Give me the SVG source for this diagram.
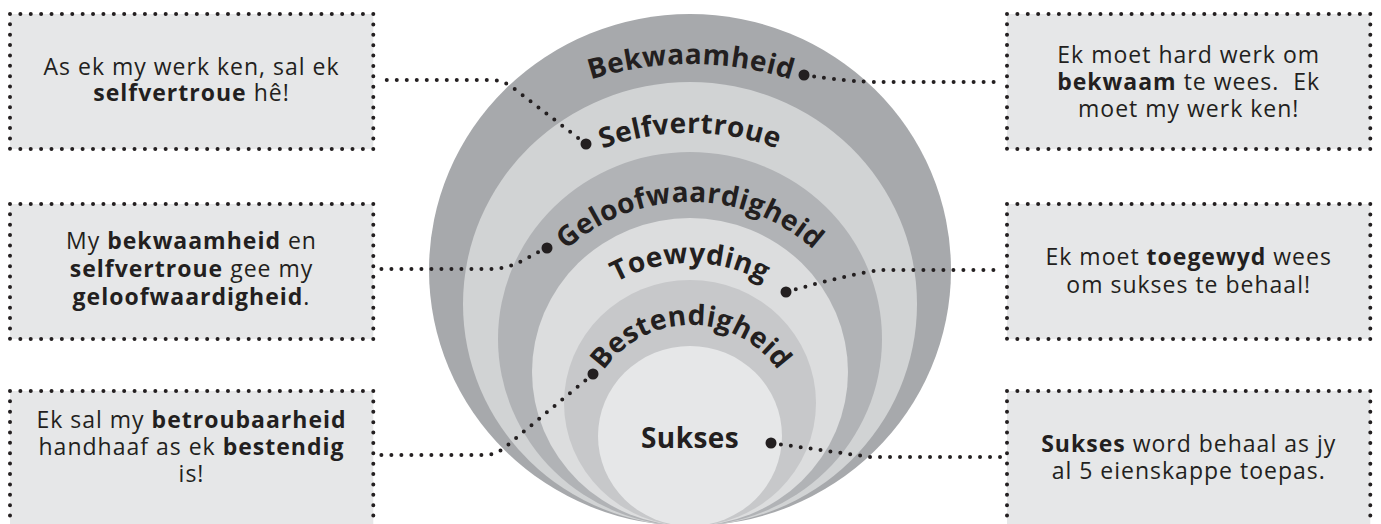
<svg xmlns="http://www.w3.org/2000/svg" width="1381" height="524" viewBox="0 0 1381 524">
<style>
.box{fill:#e6e7e8;stroke:#231f20;stroke-width:4;stroke-linecap:round;stroke-dasharray:0 10.38}
.bt{font-family:"Open Sans","Liberation Sans",sans-serif;font-size:23px;letter-spacing:1px;fill:#231f20;text-anchor:middle}
.b{font-weight:700}
.rl{font-family:"Open Sans","Liberation Sans",sans-serif;font-size:28px;font-weight:700;letter-spacing:0.4px;fill:#231f20}
.conn{fill:none;stroke:#231f20;stroke-width:4;stroke-linecap:round;stroke-dasharray:0 10}
.dot{fill:#231f20}
</style>
<defs>
<path id="a1" d="M 457.7 160.7 A 330 330 0 0 1 924.3 160.7"/>
<path id="a2" d="M 513.2 206.2 A 250 250 0 0 1 866.8 206.2"/>
<path id="a3" d="M 518 322.4 A 183 183 0 0 1 862 322.4"/>
<path id="a4" d="M 572.8 317.7 A 153 153 0 0 1 807.2 317.7"/>
<path id="a5" d="M 586.6 412.6 A 106 106 0 0 1 795.4 412.6"/>
</defs>

<g id="rings">
<ellipse id="ring-bekwaamheid" cx="690" cy="270" rx="261" ry="256" fill="#a7a9ac"/>
<ellipse id="ring-selfvertroue" cx="690" cy="304" rx="227" ry="222" fill="#d1d3d4"/>
<ellipse id="ring-geloofwaardigheid" cx="690" cy="339" rx="192" ry="187" fill="#b1b3b6"/>
<ellipse id="ring-toewyding" cx="690" cy="372" rx="158" ry="154" fill="#dcddde"/>
<ellipse id="ring-bestendigheid" cx="690" cy="403" rx="126" ry="123" fill="#c7c8ca"/>
<ellipse id="ring-sukses" cx="690" cy="436" rx="92" ry="90" fill="#e6e7e8"/>
</g>

<g id="ring-labels">
<text class="rl"><textPath href="#a1" startOffset="50%" text-anchor="middle">Bekwaamheid</textPath></text>
<text class="rl"><textPath href="#a2" startOffset="50%" text-anchor="middle">Selfvertroue</textPath></text>
<text class="rl"><textPath href="#a3" startOffset="50%" text-anchor="middle">Geloofwaardigheid</textPath></text>
<text class="rl"><textPath href="#a4" startOffset="50%" text-anchor="middle">Toewyding</textPath></text>
<text class="rl"><textPath href="#a5" startOffset="50%" text-anchor="middle">Bestendigheid</textPath></text>
<text class="rl" x="690" y="448" text-anchor="middle">Sukses</text>
</g>

<g id="connectors">
<path class="conn" d="M 586 144 L 512 87 Q 502 80 490 80 L 378 80"/>
<path class="conn" d="M 804 75 Q 850 82 880 82 L 1003 82"/>
<path class="conn" d="M 547 248 C 530 255 515 269 490 269 L 378 269"/>
<path class="conn" d="M 786 292 Q 850 274 880 270 L 1003 270"/>
<path class="conn" d="M 593 374 L 510 443 Q 498 455 485 455 L 378 455"/>
<path class="conn" d="M 771 443 L 870 457 L 1003 457"/>
<circle class="dot" cx="586" cy="144" r="5.5"/>
<circle class="dot" cx="804" cy="75" r="5.5"/>
<circle class="dot" cx="547" cy="248" r="5.5"/>
<circle class="dot" cx="786" cy="292" r="5.5"/>
<circle class="dot" cx="593" cy="374" r="5.5"/>
<circle class="dot" cx="771" cy="443" r="5.5"/>
</g>

<g id="box-selfvertroue">
<rect class="box" x="10" y="14" width="363.3" height="134.9"/>
<text class="bt" x="191.5" y="75">As ek my werk ken, sal ek</text>
<text class="bt" x="191.5" y="101"><tspan class="b">selfvertroue</tspan> hê!</text>
</g>

<g id="box-geloofwaardigheid">
<rect class="box" x="10" y="204" width="363.3" height="134.9"/>
<text class="bt" x="191.5" y="249">My <tspan class="b">bekwaamheid</tspan> en</text>
<text class="bt" x="191.5" y="277"><tspan class="b">selfvertroue</tspan> gee my</text>
<text class="bt" x="191.5" y="305"><tspan class="b">geloofwaardigheid</tspan>.</text>
</g>

<g id="box-bestendigheid">
<rect class="box" x="10" y="391" width="363.3" height="145.3"/>
<text class="bt" x="191.5" y="428">Ek sal my <tspan class="b">betroubaarheid</tspan></text>
<text class="bt" x="191.5" y="455">handhaaf as ek <tspan class="b">bestendig</tspan></text>
<text class="bt" x="191.5" y="482">is!</text>
</g>

<g id="box-bekwaamheid">
<rect class="box" x="1007" y="14" width="363.3" height="134.9"/>
<text class="bt" x="1188.7" y="63">Ek moet hard werk om</text>
<text class="bt" x="1188.7" y="90" xml:space="preserve"><tspan class="b">bekwaam</tspan> te wees.  Ek</text>
<text class="bt" x="1188.7" y="117">moet my werk ken!</text>
</g>

<g id="box-toewyding">
<rect class="box" x="1007" y="204" width="363.3" height="134.9"/>
<text class="bt" x="1188.7" y="265">Ek moet <tspan class="b">toegewyd</tspan> wees</text>
<text class="bt" x="1188.7" y="293">om sukses te behaal!</text>
</g>

<g id="box-sukses">
<rect class="box" x="1007" y="391" width="363.3" height="145.3"/>
<text class="bt" x="1188.7" y="452"><tspan class="b">Sukses</tspan> word behaal as jy</text>
<text class="bt" x="1188.7" y="479">al 5 eienskappe toepas.</text>
</g>
</svg>
